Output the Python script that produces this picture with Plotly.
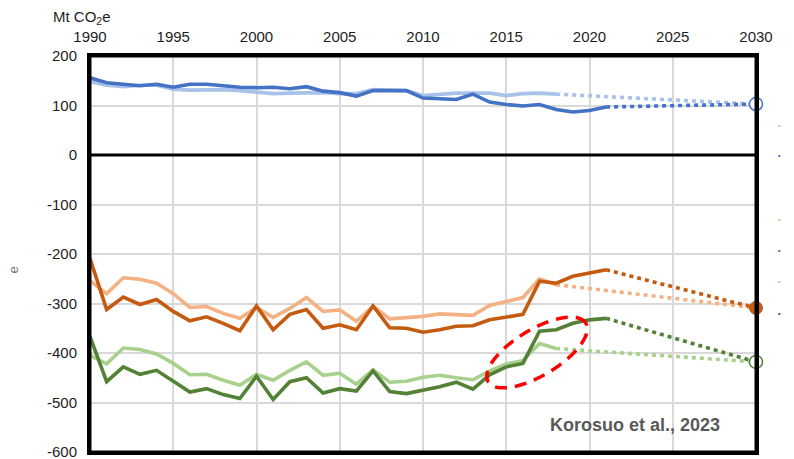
import math
import plotly.graph_objects as go

# ---------------- data ----------------
years_hist = list(range(1990, 2022))          # 1990-2021
years_short = list(range(1990, 2019))         # 1990-2018
target_year = 2030

blue_dark = [156, 146, 143, 140, 143, 137, 143, 143, 140, 137, 136, 137, 134, 138, 129, 126,
             119, 130, 130, 130, 115, 113, 112, 123, 107, 102, 99, 102, 92, 87, 90, 97]
blue_light = [148, 141, 138, 141, 141, 133, 131, 132, 132, 130, 127, 124, 125, 126, 126, 124,
              124, 132, 131, 130, 120, 122, 125, 125, 125, 120, 124, 125, 123]

orange_dark = [-209, -312, -287, -302, -292, -316, -335, -327, -340, -355, -305, -353, -322, -312, -350, -343,
               -353, -305, -349, -350, -358, -353, -346, -345, -333, -327, -322, -255, -259, -245, -239, -232]
orange_light = [-254, -280, -248, -251, -259, -280, -308, -306, -320, -330, -308, -328, -310, -288, -316, -313,
                -336, -305, -331, -329, -326, -321, -323, -324, -304, -296, -288, -250, -262]

green_dark = [-367, -458, -428, -443, -435, -457, -479, -472, -484, -492, -447, -494, -458, -450, -481, -472,
              -477, -436, -478, -482, -475, -468, -459, -473, -444, -428, -421, -356, -353, -340, -333, -330]
green_light = [-405, -422, -390, -393, -402, -421, -444, -443, -455, -465, -443, -455, -435, -418, -445, -441,
               -463, -434, -459, -457, -449, -445, -450, -454, -436, -422, -415, -381, -391]

target_blue = 103
target_orange = -309
target_green = -418

x_ticks = [1990, 1995, 2000, 2005, 2010, 2015, 2020, 2025, 2030]
y_ticks = [200, 100, 0, -100, -200, -300, -400, -500, -600]
y_tick_labels = ["200", "100", "0", "-100", "-200", "-300", "-400", "-500", "-600"]

# ---------------- style ----------------
C_BLUE_D = "#4472C4"
C_BLUE_L = "#A9C2EA"
C_OR_D = "#C55A11"
C_OR_L = "#F4B183"
C_GR_D = "#538135"
C_GR_L = "#A9D18E"
FONT = "Liberation Sans, Arial, sans-serif"
TXT = "#1E1E1E"
LW = 3.6
DOT = "4px,4px"

fig = go.Figure()


def hist(x, y, color):
    fig.add_trace(go.Scatter(x=x, y=y, mode="lines", line=dict(color=color, width=LW),
                             showlegend=False, hoverinfo="skip"))


def proj(x0, y0, y1, color):
    fig.add_trace(go.Scatter(x=[x0, target_year], y=[y0, y1], mode="lines",
                             line=dict(color=color, width=LW, dash=DOT),
                             showlegend=False, hoverinfo="skip"))


# projections (drawn first, underneath)
proj(years_short[-1], blue_light[-1], target_blue, C_BLUE_L)
proj(years_hist[-1], blue_dark[-1], target_blue, C_BLUE_D)
proj(years_short[-1], orange_light[-1], target_orange, C_OR_L)
proj(years_hist[-1], orange_dark[-1], target_orange, C_OR_D)
proj(years_short[-1], green_light[-1], target_green, C_GR_L)
proj(years_hist[-1], green_dark[-1], target_green, C_GR_D)

hist(years_short, blue_light, C_BLUE_L)
hist(years_hist, blue_dark, C_BLUE_D)
hist(years_short, orange_light, C_OR_L)
hist(years_hist, orange_dark, C_OR_D)
hist(years_short, green_light, C_GR_L)
hist(years_hist, green_dark, C_GR_D)

# 2030 target markers
fig.add_trace(go.Scatter(x=[target_year], y=[target_blue], mode="markers",
                         marker=dict(size=13, color="white", line=dict(color=C_BLUE_D, width=1.5)),
                         showlegend=False, hoverinfo="skip", cliponaxis=False))
fig.add_trace(go.Scatter(x=[target_year], y=[target_orange], mode="markers",
                         marker=dict(size=13, color=C_OR_D, line=dict(color=C_OR_D, width=1)),
                         showlegend=False, hoverinfo="skip", cliponaxis=False))
fig.add_trace(go.Scatter(x=[target_year], y=[target_green], mode="markers",
                         marker=dict(size=13, color="white", line=dict(color=C_GR_D, width=1.5)),
                         showlegend=False, hoverinfo="skip", cliponaxis=False))

# red dashed ellipse (highlight)
PX_YEAR = 666 / 40.0
PX_UNIT = 396 / 800.0
cx, cy = 2016.85, -399
a_px, b_px, phi = 57, 23, math.radians(31)
pts = []
for i in range(73):
    t = 2 * math.pi * i / 72
    dx = a_px * math.cos(t) * math.cos(phi) - b_px * math.sin(t) * math.sin(phi)
    dy = a_px * math.cos(t) * math.sin(phi) + b_px * math.sin(t) * math.cos(phi)
    pts.append((cx + dx / PX_YEAR, cy + dy / PX_UNIT))
path = "M " + " L ".join(f"{x:.4f},{y:.3f}" for x, y in pts) + " Z"
fig.add_shape(type="path", path=path, xref="x", yref="y",
              line=dict(color="#FF0000", width=3.5, dash="12px,8px"))

# zero line
fig.add_shape(type="line", x0=1990, x1=2030, y0=0, y1=0, xref="x", yref="y",
              line=dict(color="black", width=3))

# black frame round the plot area
fig.add_shape(type="rect", xref="paper", yref="paper", x0=0, x1=1, y0=0, y1=1,
              line=dict(color="black", width=3), fillcolor="rgba(0,0,0,0)")

# small cut-off legend fragments on the right
frag = [(126, C_BLUE_L), (156, C_BLUE_D), (220, C_OR_L), (251, C_GR_D), (282, C_GR_L), (314, "#555555")]
for ypx, col in frag:
    yp = (452 - ypx) / 396.0
    fig.add_shape(type="line", xref="paper", yref="paper", x0=1.0335, x1=1.0365, y0=yp, y1=yp,
                  line=dict(color=col, width=2))

fig.add_annotation(x=0.818, y=0.068, xref="paper", yref="paper", text="<b>Korosuo et al., 2023</b>",
                   showarrow=False, font=dict(family=FONT, size=18, color="#595959"),
                   xanchor="center", yanchor="middle")
fig.add_annotation(x=-0.058, y=1.097, xref="paper", yref="paper",
                   text="Mt CO<sub>2</sub>e", showarrow=False,
                   font=dict(family=FONT, size=15, color=TXT), xanchor="left", yanchor="middle")
fig.add_annotation(x=-0.129, y=0.46, xref="paper", yref="paper", text="e", textangle=-90,
                   showarrow=False, font=dict(family=FONT, size=13, color="#777777"))

fig.update_xaxes(range=[1990, 2030], side="top", tickvals=x_ticks, ticks="",
                 showgrid=True, gridcolor="#D9D9D9", gridwidth=2, automargin=False,
                 ticklabeloverflow="allow",
                 showline=True, linecolor="black", linewidth=3, mirror=True, ticklabelstandoff=5,
                 tickfont=dict(family=FONT, size=15, color=TXT), zeroline=False)
fig.update_yaxes(range=[-600, 200], tickvals=y_ticks, ticktext=y_tick_labels, ticks="",
                 showgrid=True, gridcolor="#D9D9D9", gridwidth=2, automargin=False,
                 ticklabeloverflow="allow",
                 showline=True, linecolor="black", linewidth=3, mirror=True, ticklabelstandoff=7,
                 tickfont=dict(family=FONT, size=15, color=TXT), zeroline=False)

# figure is 8px taller than the window so the plot frame's bottom edge sits at y=452
fig.update_layout(width=794, height=467, margin=dict(l=90, r=38, t=56, b=15),
                  paper_bgcolor="white", plot_bgcolor="white", showlegend=False,
                  font=dict(family=FONT))

# remove the browser's default body margin so the figure sits at the page origin
fig.write_html("out.html", config={"displayModeBar": False},
               post_script="document.body.style.margin='0';document.body.style.overflow='hidden';")
